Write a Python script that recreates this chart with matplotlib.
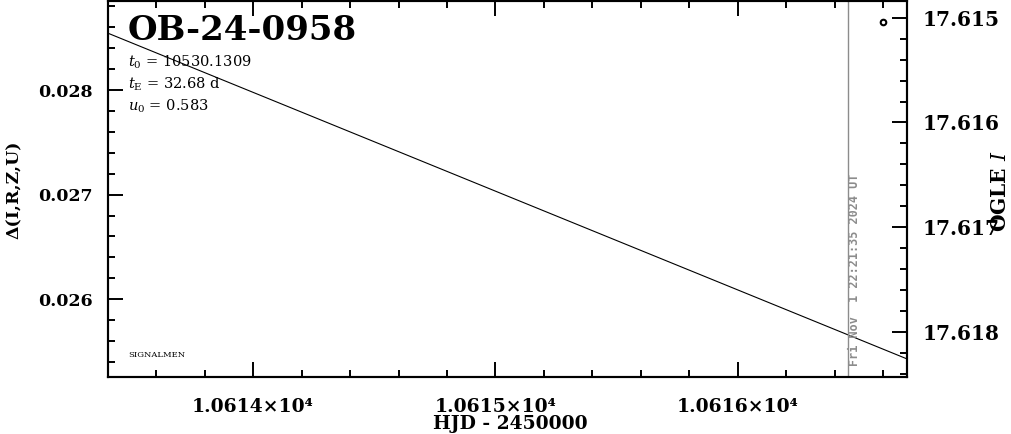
import matplotlib
matplotlib.use("Agg")
import matplotlib.pyplot as plt
from matplotlib.ticker import MultipleLocator, FuncFormatter

# ---- data ----
model_hjd = [10613.402, 10616.697]
model_delta = [0.028543, 0.025429]
ogle_hjd = [10616.598]
ogle_mag = [17.61504]
now_hjd = 10616.455
xlim = (10613.402, 10616.697)
ylim_left = (0.025256, 0.028851)
ylim_right = (17.61843, 17.61484)
title = "OB-24-0958"
params = [r"$t_0$ = 10530.1309", r"$t_{\rm E}$ = 32.68 d", r"$u_0$ = 0.583"]
date_text = "Fri Nov  1 22:21:35 2024 UT"

plt.rcParams['mathtext.fontset'] = 'dejavuserif'
plt.rcParams['font.family'] = 'DejaVu Serif'

W, H = 1011, 434
fig = plt.figure(figsize=(W / 100, H / 100), dpi=100)
L, R, B, T = 108, 907, 377, 1
ax = fig.add_axes([L / W, 1 - B / H, (R - L) / W, (B - T) / H])
ax2 = ax.twinx()

ax.plot(model_hjd, model_delta, color='black', lw=0.8)
ax.axvline(now_hjd, color='#8c8c8c', lw=1.0)
ax2.plot(ogle_hjd, ogle_mag, 'o', mfc='none', mec='black', ms=4, mew=1.5)

ax.set_xlim(*xlim)
ax.set_ylim(*ylim_left)
ax2.set_ylim(*ylim_right)

ax.xaxis.set_major_locator(MultipleLocator(1))
ax.xaxis.set_minor_locator(MultipleLocator(0.2))
ax.xaxis.set_major_formatter(FuncFormatter(lambda v, p: f"{v/1e4:.4f}×10⁴"))
ax.yaxis.set_major_locator(MultipleLocator(0.001))
ax.yaxis.set_minor_locator(MultipleLocator(0.0002))
ax.yaxis.set_major_formatter(FuncFormatter(lambda v, p: f"{v:.3f}"))
ax2.yaxis.set_major_locator(MultipleLocator(0.001))
ax2.yaxis.set_minor_locator(MultipleLocator(0.0002))
ax2.yaxis.set_major_formatter(FuncFormatter(lambda v, p: f"{v:.3f}"))

for a in (ax, ax2):
    for s in a.spines.values():
        s.set_linewidth(1.5)
ax.tick_params(axis='x', which='both', direction='in', top=True, bottom=True)
ax.tick_params(axis='x', which='major', length=10.5, width=1.4, pad=15,
               labelsize=13.5)
ax.tick_params(axis='x', which='minor', length=5, width=1.4)
ax.tick_params(axis='y', which='both', direction='in', left=True, right=False)
ax.tick_params(axis='y', which='major', length=10.5, width=1.4, pad=11,
               labelsize=12.5)
ax.tick_params(axis='y', which='minor', length=5, width=1.4)
ax2.tick_params(axis='y', which='both', direction='in', right=True, left=False)
ax2.tick_params(axis='y', which='major', length=10.5, width=1.4, pad=11,
                labelsize=14.5)
ax2.tick_params(axis='y', which='minor', length=5, width=1.4)
for lab in ax.get_xticklabels() + ax.get_yticklabels() + ax2.get_yticklabels():
    lab.set_fontweight('bold')

fig.text(14 / W, 1 - 190 / H, "Δ(I,R,Z,U)", rotation=90, ha='center',
         va='center', fontsize=12.5, fontweight='bold')
fig.text(1000 / W, 1 - 191 / H, r"OGLE $I$", rotation=90, ha='center',
         va='center', fontsize=14.5, fontweight='bold')
fig.text(510 / W, 1 - 424 / H, "HJD - 2450000", ha='center', va='center',
         fontsize=13.5, fontweight='bold')

fig.text(128 / W, 1 - 31 / H, title, ha='left', va='center', fontsize=24.5,
         fontweight='bold')
for i, t in enumerate(params):
    fig.text(128 / W, 1 - (62 + 22 * i) / H, t, ha='left', va='center',
             fontsize=10.5)
fig.text(128 / W, 1 - 355 / H, "SIGNALMEN", ha='left', va='center',
         fontsize=6)
ax.text(now_hjd, 11 / 376, date_text, transform=ax.get_xaxis_transform(),
        rotation=90, ha='left', va='bottom', family='DejaVu Sans Mono',
        fontweight='bold', fontsize=8.5, color='#8c8c8c')

fig.savefig("out.png", dpi=100)
